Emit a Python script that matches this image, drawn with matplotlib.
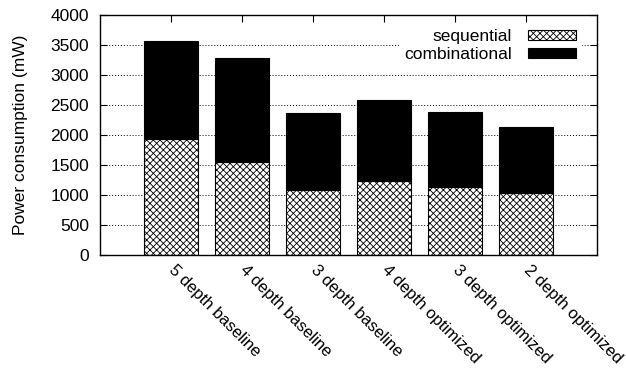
import numpy as np
import matplotlib
matplotlib.use("Agg")
import matplotlib.pyplot as plt
from matplotlib.transforms import ScaledTranslation

plt.rcParams['font.family'] = ['Liberation Sans', 'DejaVu Sans']
plt.rcParams['font.size'] = 12.5
plt.rcParams['hatch.linewidth'] = 0.6

# Data
configs = ["5 depth baseline", "4 depth baseline", "3 depth baseline",
           "4 depth optimized", "3 depth optimized", "2 depth optimized"]
sequential = [1940, 1550, 1085, 1235, 1135, 1030]
totals = [3560, 3283, 2360, 2588, 2383, 2127]
combinational = [t - s for t, s in zip(totals, sequential)]

fig = plt.figure(figsize=(6.26, 3.70), dpi=100)
ax = fig.add_axes([0.16, 0.311, 0.7937, 0.6485])

x = np.arange(len(configs))
w = 0.76
ax.bar(x, sequential, w, color="white", edgecolor="black", hatch="xxxxx",
       linewidth=0.8, label="sequential", zorder=2)
ax.bar(x, combinational, w, bottom=sequential, color="black", edgecolor="black",
       linewidth=0.8, label="combinational", zorder=2)

ax.set_xlim(-1, len(configs))
ax.set_ylim(0, 4000)
ax.set_yticks(np.arange(0, 4001, 500))
ax.set_xticks(x)
ax.set_xticklabels(configs, rotation=-45, ha="left", va="center",
                   rotation_mode="anchor", fontsize=12)
shift = ScaledTranslation(-5 / 72, 0, fig.dpi_scale_trans)
for lbl in ax.get_xticklabels():
    lbl.set_transform(lbl.get_transform() + shift)
ax.tick_params(direction="in", length=5, width=0.8, top=True, right=True)
ax.tick_params(axis="y", pad=8)
ax.tick_params(axis="x", pad=9)
ax.yaxis.grid(True, linestyle=(0, (1, 2)), color="black", linewidth=0.7, zorder=0)
ax.set_axisbelow(True)
for s in ax.spines.values():
    s.set_linewidth(1.0)

ax.set_ylabel("Power consumption (mW)", labelpad=16)

leg = ax.legend(loc="upper right", markerfirst=False, frameon=True, fancybox=False,
                handlelength=2.75, handleheight=0.55, borderpad=0.3,
                labelspacing=0.2, handletextpad=0.9, borderaxespad=0.5,
                bbox_to_anchor=(0.985, 1.0))
leg.get_frame().set_edgecolor("white")
leg.get_frame().set_facecolor("white")
leg.get_frame().set_alpha(1.0)
for t in leg.get_texts():
    t.set_ha("right")

fig.savefig("out.png", dpi=100)
